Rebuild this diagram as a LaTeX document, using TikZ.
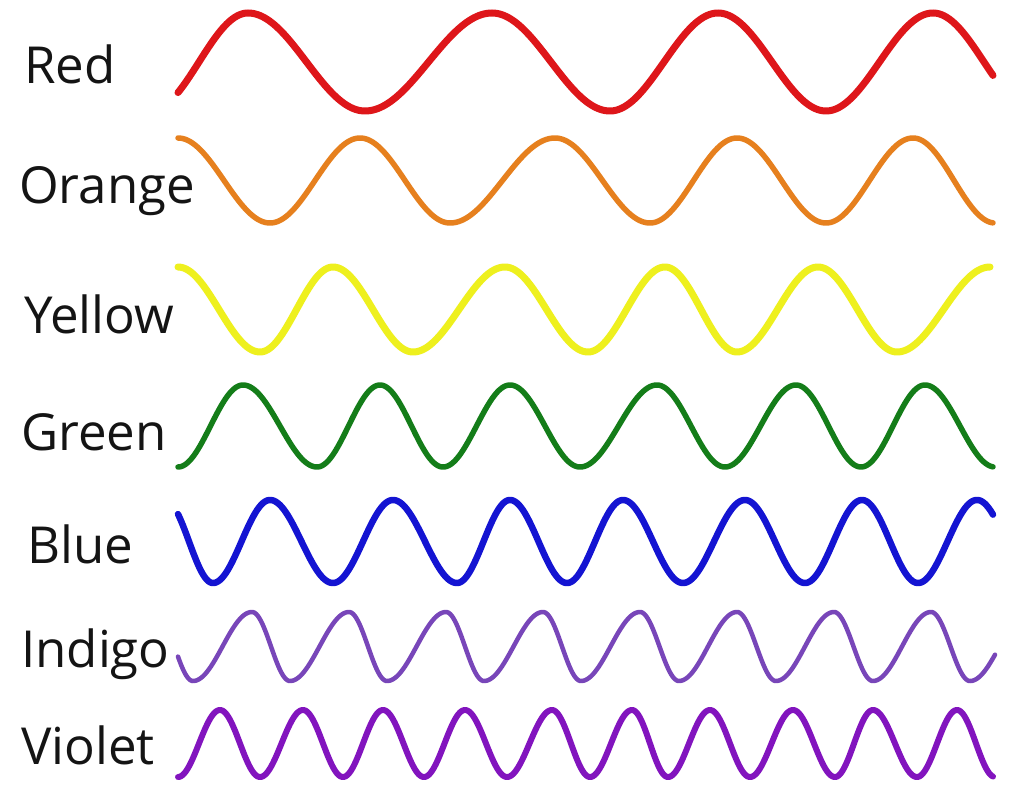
\documentclass[tikz,border=0pt]{standalone}
\usepackage{fontspec}
\setmainfont{Open Sans}
\definecolor{cred}{RGB}{222,22,26}
\definecolor{corange}{RGB}{230,128,30}
\definecolor{cyellow}{RGB}{238,240,30}
\definecolor{cgreen}{RGB}{20,125,25}
\definecolor{cblue}{RGB}{20,20,210}
\definecolor{cindigo}{RGB}{120,70,185}
\definecolor{cviolet}{RGB}{130,20,190}
\definecolor{ctext}{RGB}{20,20,20}
\begin{document}
\begin{tikzpicture}[x=1pt,y=-1pt,
  lbl/.style={anchor=base west, inner sep=0pt, text=ctext, font=\fontsize{51}{60}\selectfont},
  wave/.style={line cap=round, line join=round}]
\useasboundingbox[fill=white] (0,0) rectangle (1012,786);
\node[lbl] (red) at (24,84) {Red};
\node[lbl] (orange) at (19,204) {Orange};
\node[lbl] (yellow) at (24,334) {Yellow};
\node[lbl] (green) at (21,450) {Green};
\node[lbl] (blue) at (27,563) {Blue};
\node[lbl] (indigo) at (21,667) {Indigo};
\node[lbl] (violet) at (21,764) {Violet};
% each segment: half cosine from extremum (xa,ya) to extremum (xb,yb), drawn over domain da:db
\draw[wave, cred, line width=7pt] foreach \xa/\ya/\xb/\yb/\da/\db in {
  150/111/248/13/178/248, 248/13/365/111/248/365, 365/111/492/13/365/492,
  492/13/610/111/492/610, 610/111/718/13/610/718, 718/13/826/111/718/826,
  826/111/933/13/826/933, 933/13/1035/111/933/993}
  { plot[domain=\da:\db, samples=50] (\x, {(\ya+\yb)/2+(\ya-\yb)/2*cos((\x-\xa)/(\xb-\xa)*180)}) };
\draw[wave, corange, line width=5.5pt] foreach \xa/\ya/\xb/\yb/\da/\db in {
  178/138/270/223/178/270, 270/223/360/138/270/360, 360/138/450/223/360/450,
  450/223/555/138/450/555, 555/138/650/223/555/650, 650/223/737/138/650/737,
  737/138/826/223/737/826, 826/223/913/138/826/913, 913/138/995/223/913/993}
  { plot[domain=\da:\db, samples=50] (\x, {(\ya+\yb)/2+(\ya-\yb)/2*cos((\x-\xa)/(\xb-\xa)*180)}) };
\draw[wave, cyellow, line width=7pt] foreach \xa/\ya/\xb/\yb/\da/\db in {
  178/267/260/352/178/260, 260/352/333/267/260/333, 333/267/413/352/333/413,
  413/352/505/267/413/505, 505/267/588/352/505/588, 588/352/665/267/588/665,
  665/267/737/352/665/737, 737/352/818/267/737/818, 818/267/897/352/818/897,
  897/352/990/267/897/990}
  { plot[domain=\da:\db, samples=50] (\x, {(\ya+\yb)/2+(\ya-\yb)/2*cos((\x-\xa)/(\xb-\xa)*180)}) };
\draw[wave, cgreen, line width=5.5pt] foreach \xa/\ya/\xb/\yb/\da/\db in {
  178/467/243/385/178/243, 243/385/317/467/243/317, 317/467/380/385/317/380,
  380/385/443/467/380/443, 443/467/510/385/443/510, 510/385/580/467/510/580,
  580/467/657/385/580/657, 657/385/725/467/657/725, 725/467/796/385/725/796,
  796/385/861/467/796/861, 861/467/925/385/861/925, 925/385/995/467/925/993}
  { plot[domain=\da:\db, samples=50] (\x, {(\ya+\yb)/2+(\ya-\yb)/2*cos((\x-\xa)/(\xb-\xa)*180)}) };
\draw[wave, cblue, line width=6.5pt] foreach \xa/\ya/\xb/\yb/\da/\db in {
  165/500/213/583/178/213, 213/583/270/500/213/270, 270/500/333/583/270/333,
  333/583/393/500/333/393, 393/500/457/583/393/457, 457/583/510/500/457/510,
  510/500/567/583/510/567, 567/583/623/500/567/623, 623/500/683/583/623/683,
  683/583/745/500/683/745, 745/500/805/583/745/805, 805/583/862/500/805/862,
  862/500/918/583/862/918, 918/583/977/500/918/977, 977/500/1035/583/977/993}
  { plot[domain=\da:\db, samples=50] (\x, {(\ya+\yb)/2+(\ya-\yb)/2*cos((\x-\xa)/(\xb-\xa)*180)}) };
\draw[wave, cindigo, line width=4.5pt] foreach \xa/\ya/\xb/\yb/\da/\db in {
  156/612/193/681/178/193, 193/681/252/612/193/252, 252/612/290/681/252/290,
  290/681/349/612/290/349, 349/612/387/681/349/387, 387/681/446/612/387/446,
  446/612/484/681/446/484, 484/681/543/612/484/543, 543/612/581/681/543/581,
  581/681/640/612/581/640, 640/612/679/681/640/679, 679/681/737/612/679/737,
  737/612/776/681/737/776, 776/681/834/612/776/834, 834/612/873/681/834/873,
  873/681/931/612/873/931, 931/612/970/681/931/970, 970/681/1029/612/970/995}
  { plot[domain=\da:\db, samples=40] (\x, {(\ya+\yb)/2+(\ya-\yb)/2*cos((\x-\xa)/(\xb-\xa)*180)}) };
\draw[wave, cviolet, line width=6pt] foreach \xa/\ya/\xb/\yb/\da/\db in {
  178/777/220/710/178/220, 220/710/260/777/220/260, 260/777/303/710/260/303,
  303/710/343/777/303/343, 343/777/383/710/343/383, 383/710/424/777/383/424,
  424/777/465/710/424/465, 465/710/507/777/465/507, 507/777/552/710/507/552,
  552/710/590/777/552/590, 590/777/632/710/590/632, 632/710/668/777/632/668,
  668/777/710/710/668/710, 710/710/750/777/710/750, 750/777/793/710/750/793,
  793/710/835/777/793/835, 835/777/873/710/835/873, 873/710/917/777/873/917,
  917/777/957/710/917/957, 957/710/995/777/957/993}
  { plot[domain=\da:\db, samples=40] (\x, {(\ya+\yb)/2+(\ya-\yb)/2*cos((\x-\xa)/(\xb-\xa)*180)}) };
\end{tikzpicture}
\end{document}
